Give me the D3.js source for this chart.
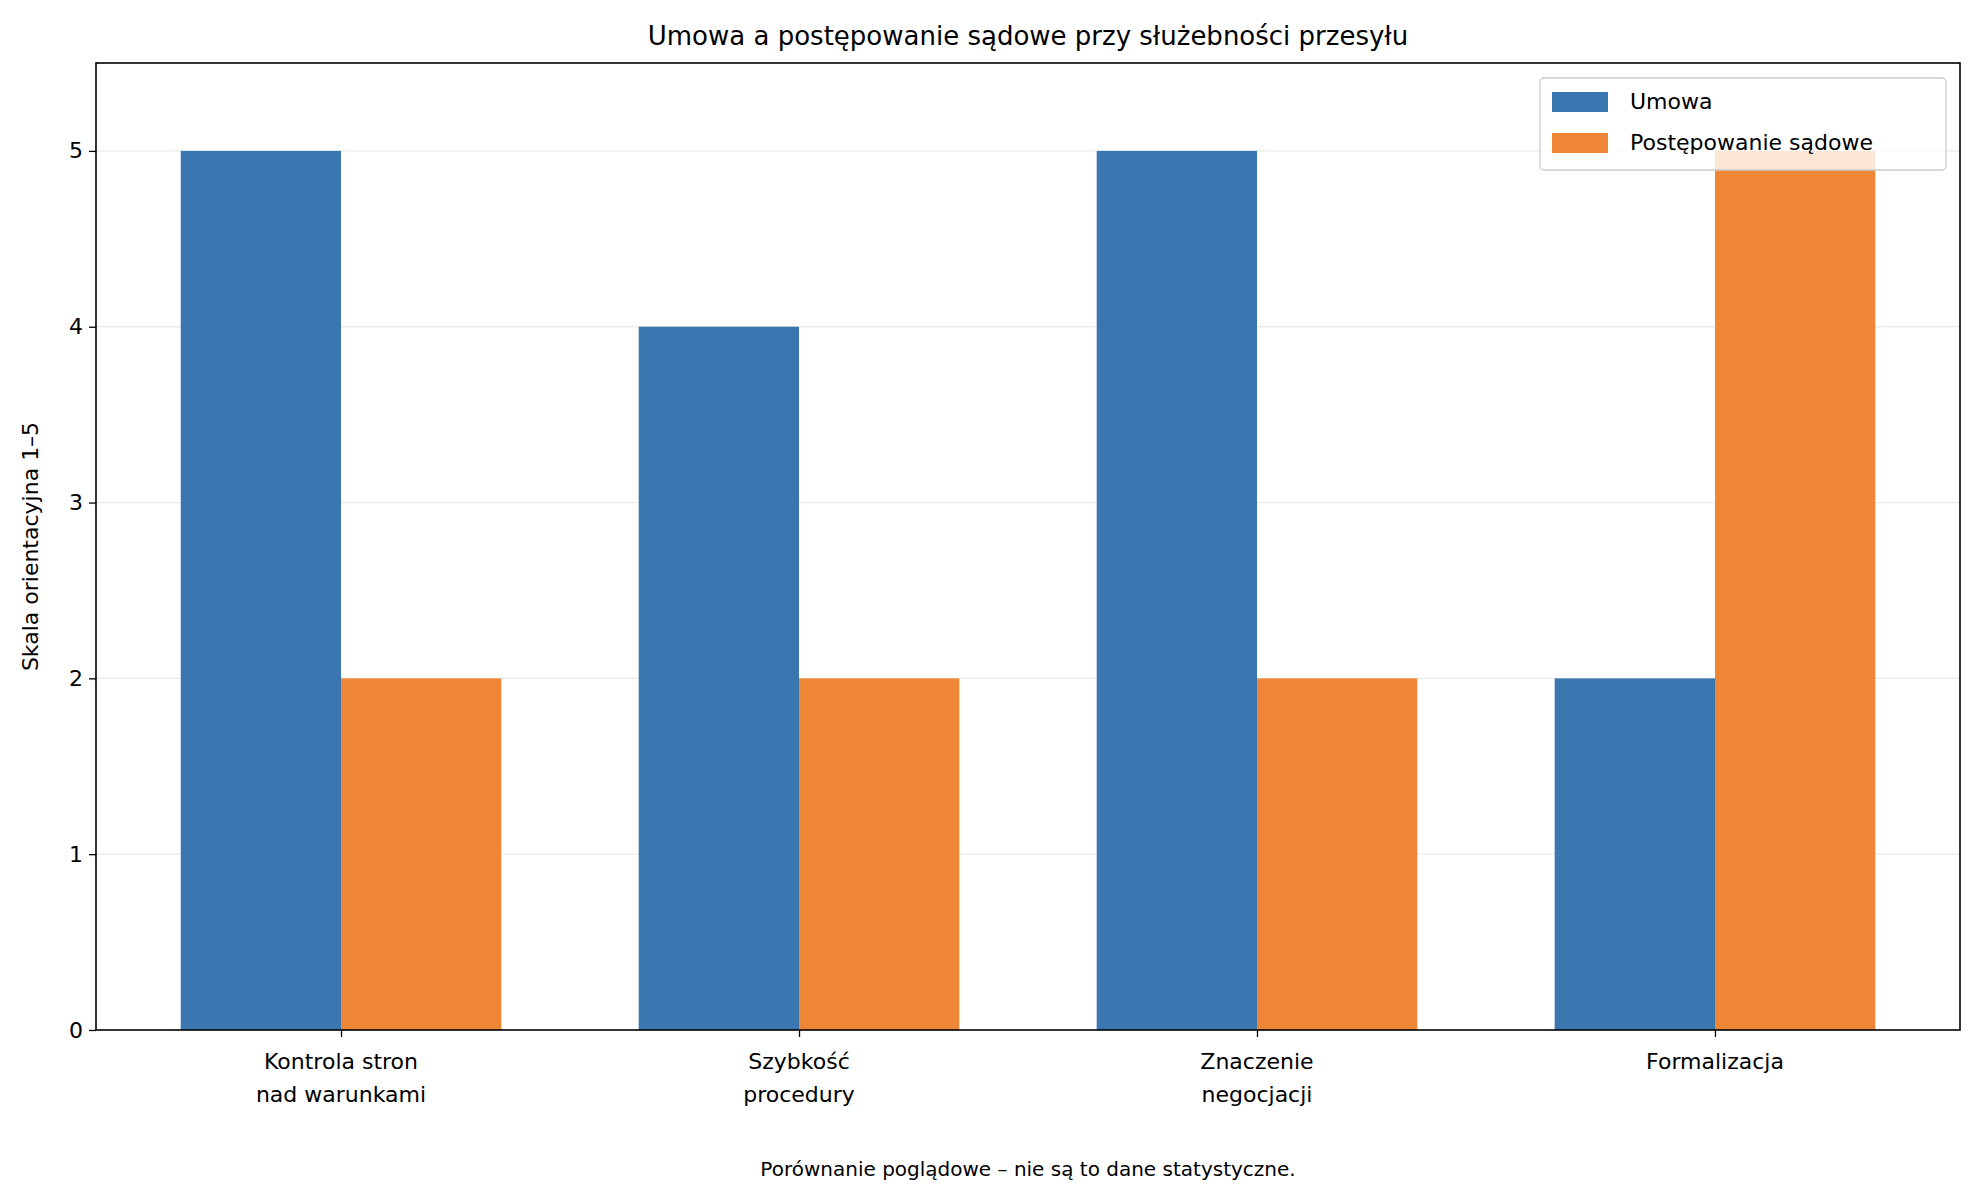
<!DOCTYPE html><html><head><meta charset="utf-8"><script src="https://cdn.jsdelivr.net/npm/d3@7"></script>
<style>body{margin:0;background:#fff}text{font-family:"DejaVu Sans",sans-serif}</style></head><body><svg id="c" width="1979" height="1201"></svg><script>
const categories=[["Kontrola stron","nad warunkami"],["Szybkość","procedury"],["Znaczenie","negocjacji"],["Formalizacja"]];
const umowa=[5,4,5,2];
const sadowe=[2,2,2,5];
const seriesNames=["Umowa","Postępowanie sądowe"];
const colors=["#3a76af","#ef8636"];
const yTicks=[0,1,2,3,4,5];
const svg=d3.select("#c");
const L=96,R=1960,T=63,B=1030;
const x=d3.scaleLinear().domain([-0.535,3.535]).range([L,R]);
const y=d3.scaleLinear().domain([0,5.5]).range([B,T]);
const w=0.35;
svg.append("g").selectAll("line").data(yTicks.slice(1)).join("line").attr("x1",L).attr("x2",R).attr("y1",d=>y(d)).attr("y2",d=>y(d)).attr("stroke","#ebebeb").attr("stroke-width",1.3);
[umowa,sadowe].forEach((s,si)=>{svg.append("g").selectAll("rect").data(s).join("rect")
 .attr("x",(d,i)=>x(i+(si-1)*w)).attr("width",(d,i)=>x(i+si*w)-x(i+(si-1)*w)).attr("y",d=>y(d)).attr("height",d=>B-y(d)).attr("fill",colors[si]);});
const ya=svg.append("g").attr("transform",`translate(${L},0)`).call(d3.axisLeft(y).tickValues(yTicks).tickSize(7).tickPadding(6).tickFormat(d3.format("d")));
const xa=svg.append("g").attr("transform",`translate(0,${B})`).call(d3.axisBottom(x).tickValues([0,1,2,3]).tickSize(7).tickFormat(""));
[ya,xa].forEach(a=>{a.select(".domain").remove();a.selectAll("line").attr("stroke","#000").attr("stroke-width",1.3);a.selectAll("text").attr("font-size",22).attr("fill","#000").attr("font-family","DejaVu Sans");});
categories.forEach((c,i)=>c.forEach((t,j)=>svg.append("text").attr("x",x(i)).attr("y",1069+j*33).attr("text-anchor","middle").attr("font-size",22).text(t)));
svg.append("rect").attr("x",L).attr("y",T).attr("width",R-L).attr("height",B-T).attr("fill","none").attr("stroke","#000").attr("stroke-width",1.6);
svg.append("text").attr("x",(L+R)/2).attr("y",45).attr("text-anchor","middle").attr("font-size",26).text("Umowa a postępowanie sądowe przy służebności przesyłu");
svg.append("text").attr("transform","translate(38,"+(T+B)/2+") rotate(-90)").attr("text-anchor","middle").attr("font-size",22).text("Skala orientacyjna 1–5");
svg.append("text").attr("x",(L+R)/2+0).attr("y",1176).attr("text-anchor","middle").attr("font-size",20).text("Porównanie poglądowe – nie są to dane statystyczne.");
const lg=svg.append("g");
lg.append("rect").attr("x",1540).attr("y",78).attr("width",406).attr("height",92).attr("rx",4).attr("fill","#fff").attr("fill-opacity",0.8).attr("stroke","#ccc").attr("stroke-width",1.3);
seriesNames.forEach((n,i)=>{lg.append("rect").attr("x",1552).attr("y",92+i*41).attr("width",56).attr("height",20).attr("fill",colors[i]);
 lg.append("text").attr("x",1630).attr("y",109+i*41).attr("font-size",22).text(n);});
</script></body></html>
